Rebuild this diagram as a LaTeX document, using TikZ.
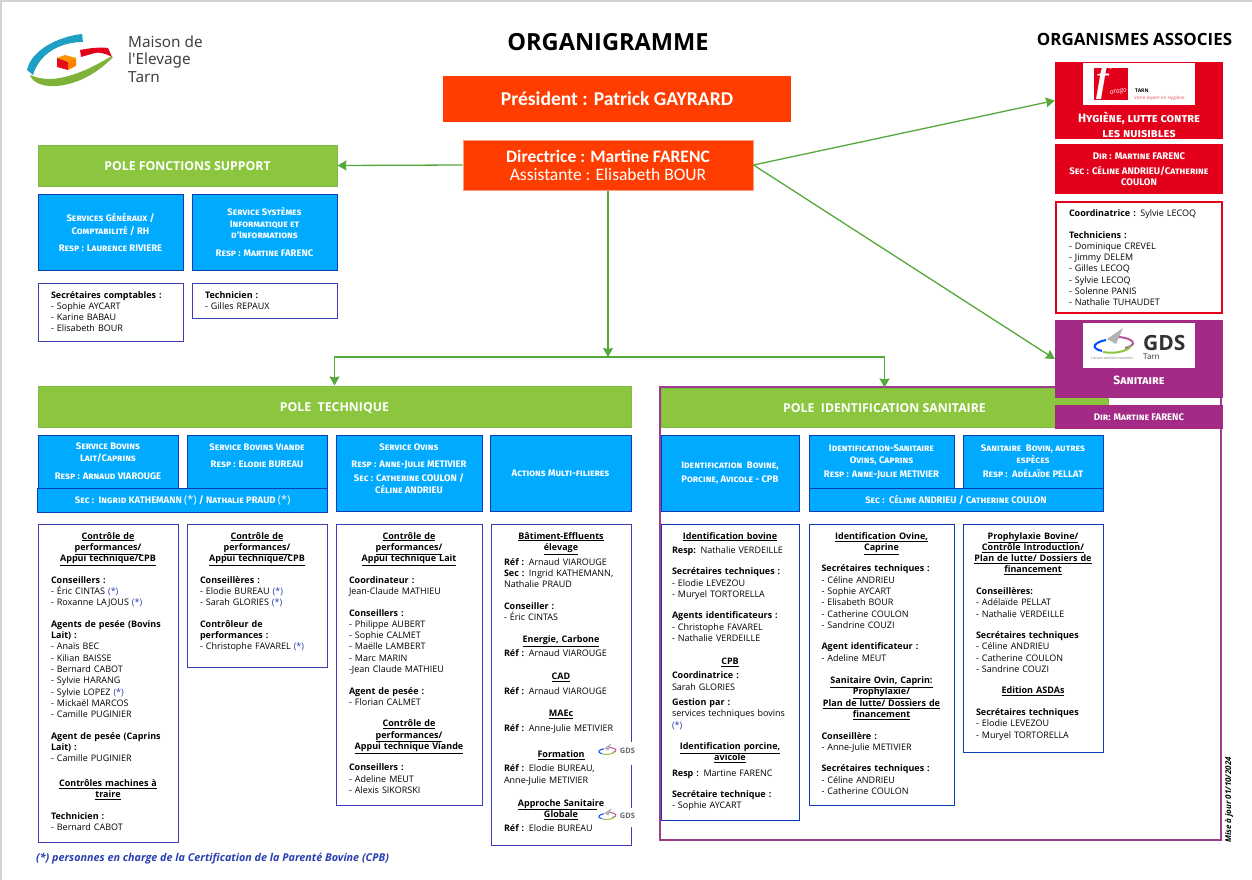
\documentclass[tikz,border=0pt]{standalone}
\usepackage{fontspec}
\setmainfont{Open Sans}
\newfontfamily\capsfont{Fira Sans}
\newfontfamily\topfont{Carlito}
\newfontfamily\logofont{Noto Sans}
\newfontfamily\farafont{Liberation Serif}
\usetikzlibrary{arrows.meta,positioning}

\definecolor{polegreen}{HTML}{8CC63F}
\definecolor{polegreenline}{HTML}{7CBB48}
\definecolor{linkgreen}{HTML}{55A83A}
\definecolor{orgred}{HTML}{FF3D00}
\definecolor{orgredline}{HTML}{F9A27A}
\definecolor{servblue}{HTML}{00AAFF}
\definecolor{servline}{HTML}{0D3EB5}
\definecolor{listline}{HTML}{3F3FB5}
\definecolor{farared}{HTML}{E2001A}
\definecolor{gdspurple}{HTML}{A32A85}
\definecolor{framepurple}{HTML}{9E3D8C}
\definecolor{starblue}{HTML}{2A3FB0}
\definecolor{logoblue}{HTML}{1E9FC4}

\newcommand{\gp}{\\[10.2pt]}
\newcommand{\tete}[1]{\makebox[\hsize][c]{\underline{\textbf{#1}}}}
\newcommand{\etoile}{\textcolor{starblue}{(*)}}

\tikzset{
 orgbox/.style={rectangle,fill=orgred,text=white,inner sep=0pt,align=center},
 polebox/.style={rectangle,draw=polegreenline,line width=1pt,fill=polegreen,text=white,inner sep=0pt,align=center,
  text height=9pt,text depth=0pt,font=\bfseries\fontsize{12.3}{15}\selectfont},
 servbox/.style={rectangle,draw=servline,line width=1pt,fill=servblue,text=white,inner sep=0pt,align=center,
  font=\capsfont\bfseries\scshape\fontsize{9.5}{13.5}\selectfont},
 listbox/.style={rectangle,draw=listline,line width=1pt,fill=white,inner sep=0pt},
 listtext/.style={anchor=north,inner sep=0pt,yshift=-8.5pt,align=left,
  font=\fontsize{9}{11.3}\selectfont},
 assocbox/.style={rectangle,text=white,inner sep=0pt,align=center,
  font=\capsfont\bfseries\scshape\fontsize{9.6}{14}\selectfont},
 link/.style={draw=linkgreen,line width=1.3pt,-{Stealth[length=9pt,width=10pt,inset=1pt]}},
 gdsmark/.pic={
  \fill[gray!60] (10,-17) -- (-6,-6) -- (3,-1) -- cycle;
  \draw[line width=#1,draw=blue!70!cyan] (-7,-5) .. controls (-18,-3) and (-24,3) .. (-11,6);
  \draw[line width=#1,draw=gdspurple!80] (6,-8) .. controls (20,-7) and (26,0) .. (12,3);
  \draw[line width=#1,draw=polegreen] (-10,7) .. controls (0,9) and (14,7) .. (18,1);
 },
}

\begin{document}
\begin{tikzpicture}[x=1pt,y=-1pt]
\useasboundingbox (0,0) rectangle (1252,880);
\fill[gray!35] (0,0) rectangle (1252,2);
\fill[gray!35] (0,0) rectangle (1.5,880);

% logo
\fill[logoblue] (27,70) .. controls (32,48) and (62,36) .. (82,34) -- (83,42) .. controls (62,42) and (40,52) .. (33,75) -- cycle;
\fill[polegreen!90!black] (30,75) .. controls (35,92) and (80,92) .. (113,57) -- (110,57) .. controls (85,72) and (55,85) .. (33,76) -- cycle;
\fill[farared] (80,50) .. controls (90,48) and (100,47) .. (108,48) -- (112,57) .. controls (105,53) and (98,52) .. (95,53) -- (81,57) -- cycle;
\fill[orange!85!yellow] (65,55) -- (76,58) -- (68,62) -- (57,58) -- cycle;
\fill[farared!90!orange] (57,58) -- (68,62) -- (68,70) -- (57,67) -- cycle;
\fill[orange] (68,62) -- (76,58) -- (76,66) -- (68,70) -- cycle;
\node[anchor=west,inner sep=0pt,align=left,text=black!75,font=\logofont\fontsize{15.3}{17.5}\selectfont] (maison) at (128,59) {Maison de\\l'Elevage\\Tarn};

\node[inner sep=0pt,font=\bfseries\fontsize{23.6}{26}\selectfont] (titre) at (608,42) {ORGANIGRAMME};
\node[inner sep=0pt,font=\bfseries\fontsize{16.9}{18}\selectfont] (assoc) at (1134.5,39) {ORGANISMES ASSOCIES};

% direction
\node[orgbox,minimum width=348,minimum height=46,font=\topfont\bfseries\fontsize{19.6}{20}\selectfont] (president) at (617,99) {Président : Patrick GAYRARD};
\node[orgbox,draw=orgredline,line width=1pt,minimum width=290,minimum height=50,font=\topfont\fontsize{17.5}{18}\selectfont] (directrice) at (608,165) {\textbf{Directrice : Martine FARENC}\\Assistante : Elisabeth BOUR};

% pole fonctions support
\node[polebox,minimum width=299,minimum height=41] (polesupport) at (187.5,165.5) {POLE FONCTIONS SUPPORT};
\node[servbox,minimum width=145,minimum height=76] (servgen) at (110.5,232) {Services Généraux /\\Comptabilité / RH\\[3pt]Resp : Laurence RIVIERE};
\node[servbox,minimum width=145,minimum height=76,font=\capsfont\bfseries\scshape\fontsize{9.5}{11.5}\selectfont] (servinfo) at (264.5,232) {Service Systèmes\\Informatique et\\d'Informations\\[6pt]Resp : Martine FARENC};
\node[listbox,minimum width=145,minimum height=58] (listgen) at (110.5,312) {};
\node[listtext,text width=119] (listgentxt) at (listgen.north) {\textbf{Secrétaires comptables :}\\- Sophie AYCART\\- Karine BABAU\\- Elisabeth BOUR};
\node[listbox,minimum width=145,minimum height=35] (listinfo) at (264.5,300.5) {};
\node[listtext,text width=119] (listinfotxt) at (listinfo.north) {\textbf{Technicien :}\\- Gilles REPAUX};

% pole technique
\node[polebox,minimum width=593,minimum height=41] (poletech) at (334.5,406.5) {POLE\ \ TECHNIQUE};
\node[servbox,minimum width=140,minimum height=53,font=\capsfont\bfseries\scshape\fontsize{9.5}{11.3}\selectfont] (bovlait) at (108,461.5) {Service Bovins\\Lait/Caprins\\[7pt]Resp : Arnaud VIAROUGE};
\node[servbox,minimum width=140,minimum height=53] (bovviande) at (257,461.5) {Service Bovins Viande\\[3.5pt]Resp : Elodie BUREAU\\[-1.5pt]~};
\node[servbox,minimum width=289.5,minimum height=24] (secbovins) at (182.7,500) {Sec :\ \ Ingrid KATHEMANN {\normalfont\fontsize{11}{12}\selectfont(*)} / Nathalie PRAUD {\normalfont\fontsize{11}{12}\selectfont(*)}};
\node[servbox,minimum width=146,minimum height=76,font=\capsfont\bfseries\scshape\fontsize{9.5}{11.3}\selectfont] (ovins) at (409,473) {Service Ovins\\[5.5pt]Resp : Anne-Julie METIVIER\\[3.5pt]Sec : Catherine COULON /\\Céline ANDRIEU\\[-2pt]~};
\node[servbox,minimum width=141,minimum height=76] (multi) at (560.5,473) {Actions Multi-filieres};

\node[listbox,minimum width=140,minimum height=318] (listbovlait) at (108,683) {};
\node[listtext,text width=114] (listbovlaittxt) at (listbovlait.north) {\tete{Contrôle de}\\\tete{performances/}\\\tete{Appui technique/CPB}\gp
\textbf{Conseillers :}\\- Éric CINTAS \etoile\\- Roxanne LAJOUS \etoile\gp
\textbf{Agents de pesée (Bovins}\\\textbf{Lait) :}\\- Anaïs BEC\\- Kilian BAISSE\\- Bernard CABOT\\- Sylvie HARANG\\- Sylvie LOPEZ \etoile\\- Mickaël MARCOS\\- Camille PUGINIER\gp
\textbf{Agent de pesée (Caprins}\\\textbf{Lait) :}\\- Camille PUGINIER\\[13.5pt]
\tete{Contrôles machines à}\\\tete{traire}\gp
\textbf{Technicien :}\\- Bernard CABOT};
\node[listbox,minimum width=140,minimum height=143] (listbovviande) at (257,595.5) {};
\node[listtext,text width=114] (listbovviandetxt) at (listbovviande.north) {\tete{Contrôle de}\\\tete{performances/}\\\tete{Appui technique/CPB}\gp
\textbf{Conseillères :}\\- Elodie BUREAU \etoile\\- Sarah GLORIES \etoile\gp
\textbf{Contrôleur de}\\\textbf{performances :}\\- Christophe FAVAREL \etoile};
\node[listbox,minimum width=146,minimum height=281] (listovins) at (409,664.5) {};
\node[listtext,text width=120] (listovinstxt) at (listovins.north) {\tete{Contrôle de}\\\tete{performances/}\\\tete{Appui technique Lait}\gp
\textbf{Coordinateur :}\\Jean-Claude MATHIEU\gp
\textbf{Conseillers :}\\- Philippe AUBERT\\- Sophie CALMET\\- Maëlle LAMBERT\\- Marc MARIN\\-Jean Claude MATHIEU\gp
\textbf{Agent de pesée :}\\- Florian CALMET\gp
\tete{Contrôle de}\\\tete{performances/}\\\tete{Appui technique Viande}\gp
\textbf{Conseillers :}\\- Adeline MEUT\\- Alexis SIKORSKI};
\node[listbox,minimum width=140,minimum height=321] (listmulti) at (561,684.5) {};
\node[listtext,text width=114] (listmultitxt) at (listmulti.north) {\tete{Bâtiment-Effluents}\\\tete{élevage}\\[3.7pt]
\textbf{Réf :} Arnaud VIAROUGE\\\textbf{Sec :} Ingrid KATHEMANN,\\Nathalie PRAUD\gp
\textbf{Conseiller :}\\- Éric CINTAS\\[10.7pt]
\tete{Energie, Carbone}\\[2.7pt]\textbf{Réf :} Arnaud VIAROUGE\\[11.7pt]
\tete{CAD}\\[3.7pt]\textbf{Réf :} Arnaud VIAROUGE\\[10.7pt]
\tete{MAEc}\\[3.7pt]\textbf{Réf :} Anne-Julie METIVIER\\[14.7pt]
\tete{Formation}\\[2.7pt]\textbf{Réf :} Elodie BUREAU,\\Anne-Julie METIVIER\\[11.7pt]
\tete{Approche Sanitaire}\\\tete{Globale}\\[2.7pt]\textbf{Réf :} Elodie BUREAU};
% petits logos GDS
\foreach \yy/\yh/\yb/\nm in {751/742/765/gdsa,816/808/827/gdsb}{
 \fill[white] (597,\yh) rectangle (637,\yb);
 \pic[scale=.45] at (607,\yy) {gdsmark=1pt};
 \node[inner sep=0pt,text=black!60,font=\bfseries\fontsize{7.5}{8}\selectfont] (\nm) at (627.5,\yy) {GDS};
}

% pole identification sanitaire
\node[polebox,minimum width=447,minimum height=39] (poleident) at (884.5,407.5) {POLE\ \ IDENTIFICATION SANITAIRE};
\node[rectangle,draw=framepurple,line width=2.5pt,minimum width=561,minimum height=453,inner sep=0pt] (cadre) at (940.5,613.5) {};
\node[servbox,minimum width=138,minimum height=76] (identbov) at (730,473) {Identification\ \ Bovine,\\Porcine, Avicole - CPB};
\node[servbox,minimum width=145,minimum height=53,font=\capsfont\bfseries\scshape\fontsize{9.5}{12}\selectfont] (identov) at (881.5,461.5) {Identification-Sanitaire\\Ovins, Caprins\\[2pt]Resp : Anne-Julie METIVIER};
\node[servbox,minimum width=140,minimum height=53,font=\capsfont\bfseries\scshape\fontsize{9.5}{12}\selectfont] (sanbov) at (1033,461.5) {Sanitaire\ \ Bovin, autres\\espèces\\[2pt]Resp :\ \ Adélaïde PELLAT};
\node[servbox,minimum width=294,minimum height=23] (secident) at (956,499.5) {Sec :\ \ Céline ANDRIEU / Catherine COULON};

\node[listbox,draw=servline,minimum width=138,minimum height=296] (listidentbov) at (730,672) {};
\node[listtext,text width=116] (listidentbovtxt) at (listidentbov.north) {\tete{Identification bovine}\\[3pt]
\textbf{Resp:} Nathalie VERDEILLE\gp
\textbf{Secrétaires techniques :}\\- Elodie LEVEZOU\\- Muryel TORTORELLA\gp
\textbf{Agents identificateurs :}\\- Christophe FAVAREL\\- Nathalie VERDEILLE\\[11.7pt]
\tete{CPB}\\[3pt]\textbf{Coordinatrice :}\\Sarah GLORIES\\[4pt]
\textbf{Gestion par :}\\services techniques bovins\\\etoile\gp
\tete{Identification porcine,}\\\tete{avicole}\\[4pt]\textbf{Resp :} Martine FARENC\gp
\textbf{Secrétaire technique :}\\- Sophie AYCART};
\node[listbox,draw=servline,minimum width=145,minimum height=281] (listidentov) at (881.5,664.5) {};
\node[listtext,text width=120] (listidentovtxt) at (listidentov.north) {\tete{Identification Ovine,}\\\tete{Caprine}\gp
\textbf{Secrétaires techniques :}\\- Céline ANDRIEU\\- Sophie AYCART\\- Elisabeth BOUR\\- Catherine COULON\\- Sandrine COUZI\gp
\textbf{Agent identificateur :}\\- Adeline MEUT\\[11.2pt]
\tete{Sanitaire Ovin, Caprin:}\\\tete{Prophylaxie/}\\\tete{Plan de lutte/ Dossiers de}\\\tete{financement}\gp
\textbf{Conseillère :}\\- Anne-Julie METIVIER\gp
\textbf{Secrétaires techniques :}\\- Céline ANDRIEU\\- Catherine COULON};
\node[listbox,draw=servline,minimum width=140,minimum height=228] (listsanbov) at (1033,638) {};
\node[listtext,text width=114] (listsanbovtxt) at (listsanbov.north) {\tete{Prophylaxie Bovine/}\\\tete{Contrôle Introduction/}\\\tete{Plan de lutte/ Dossiers de}\\\tete{financement}\gp
\textbf{Conseillères:}\\- Adélaïde PELLAT\\- Nathalie VERDEILLE\gp
\textbf{Secrétaires techniques}\\- Céline ANDRIEU\\- Catherine COULON\\- Sandrine COUZI\gp
\tete{Edition ASDAs}\gp
\textbf{Secrétaires techniques}\\- Elodie LEVEZOU\\- Muryel TORTORELLA};

% organismes associes
\node[assocbox,fill=farared,minimum width=168,minimum height=77] (farago) at (1139,100.5) {};
\fill[white] (1083,63) rectangle (1195,105);
\fill[farared] (1094,68) rectangle (1128,100);
\node[inner sep=0pt,text=white,font=\farafont\bfseries\itshape\fontsize{38}{38}\selectfont] (farf) at (1103,82) {f};
\node[inner sep=0pt,rotate=8,text=white,font=\itshape\fontsize{6.5}{8}\selectfont] (farag) at (1118.5,92) {arago};
\node[anchor=west,inner sep=0pt,font=\bfseries\fontsize{5}{6}\selectfont] (fartarn) at (1135,91) {TARN};
\node[anchor=west,inner sep=0pt,text=farared!70,font=\fontsize{4.5}{5}\selectfont] (farexp) at (1134,98) {Votre expert en Hygiène};
\node[assocbox,font=\capsfont\bfseries\scshape\fontsize{12.2}{15}\selectfont] (fartxt) at (1139,124.5) {Hygiène, lutte contre\\les nuisibles};
\node[assocbox,fill=farared,minimum width=168,minimum height=50,font=\capsfont\bfseries\scshape\fontsize{9.6}{11}\selectfont] (fardir) at (1139,169) {Dir : Martine FARENC\\[4pt]Sec : Céline ANDRIEU/Catherine\\COULON};
\node[listbox,draw=farared,line width=2pt,minimum width=166,minimum height=111] (farlist) at (1139,257.5) {};
\node[listtext,text width=140] (farlisttxt) at (farlist.north) {\textbf{Coordinatrice :} Sylvie LECOQ\gp
\textbf{Techniciens\ :}\\- Dominique CREVEL\\- Jimmy DELEM\\- Gilles LECOQ\\- Sylvie LECOQ\\- Solenne PANIS\\- Nathalie TUHAUDET};

\node[assocbox,fill=gdspurple,minimum width=168,minimum height=78] (gds) at (1139,359) {};
\fill[white] (1083,323) rectangle (1195,368);
\pic at (1113,345) {gdsmark=2pt};
\node[anchor=west,inner sep=0pt,text=black!80,font=\bfseries\fontsize{21}{22}\selectfont] (gdslogo) at (1143,343) {GDS};
\node[anchor=west,inner sep=0pt,text=black!80,font=\fontsize{8}{9}\selectfont] (gdstarn) at (1143,357) {Tarn};
\node[anchor=west,inner sep=0pt,text=gray,font=\itshape\fontsize{3.5}{4}\selectfont] (gdsact) at (1091,358) {L'action sanitaire ensemble};
\node[assocbox,font=\capsfont\bfseries\scshape\fontsize{12}{15}\selectfont] (gdstxt) at (1139,380) {Sanitaire};
\node[assocbox,fill=gdspurple,minimum width=168,minimum height=24] (gdsdir) at (1139,417) {Dir: Martine FARENC};

% liaisons
\coordinate (split) at (608,357);
\draw[link] (directrice.west) -- (polesupport.east);
\draw[link] (directrice.south) -- (split);
\draw[link] (split) -| (poletech.north);
\draw[link] (split) -| (poleident.north);
\draw[link] (directrice.east) -- (farago.west);
\draw[link] (directrice.east) -- (gds.west);

\node[anchor=west,inner sep=0pt,text=starblue,font=\bfseries\itshape\fontsize{10.8}{12}\selectfont] (note) at (36,859) {(*) personnes en charge de la Certification de la Parenté Bovine (CPB)};
\node[rotate=90,inner sep=0pt,font=\bfseries\itshape\fontsize{8}{9}\selectfont] (majour) at (1229,800) {Mise à jour 01/10/2024};
\end{tikzpicture}
\end{document}
